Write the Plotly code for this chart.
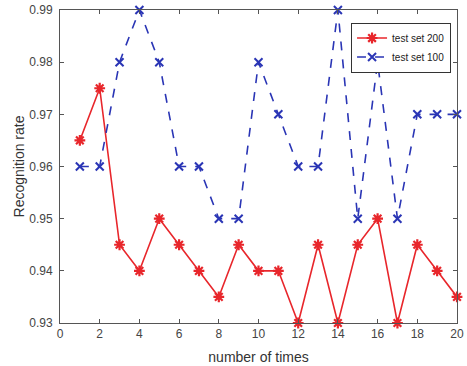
import plotly.graph_objects as go

x = list(range(1, 21))
set200 = [0.965, 0.975, 0.945, 0.94, 0.95, 0.945, 0.94, 0.935, 0.945, 0.94,
          0.94, 0.93, 0.945, 0.93, 0.945, 0.95, 0.93, 0.945, 0.94, 0.935]
set100 = [0.96, 0.96, 0.98, 0.99, 0.98, 0.96, 0.96, 0.95, 0.95, 0.98,
          0.97, 0.96, 0.96, 0.99, 0.95, 0.98, 0.95, 0.97, 0.97, 0.97]
xticks = list(range(0, 21, 2))
yticks = [0.93, 0.94, 0.95, 0.96, 0.97, 0.98, 0.99]

FONT = "Liberation Sans, Arial"

fig = go.Figure()
fig.add_trace(go.Scatter(
    x=x, y=set200, name="test set 200", mode="lines+markers",
    line=dict(color="#e8262b", width=1.6),
    marker=dict(symbol="asterisk-open", size=9, color="#e8262b",
                line=dict(color="#e8262b", width=2.2)),
    cliponaxis=False,
))
fig.add_trace(go.Scatter(
    x=x, y=set100, name="test set 100", mode="lines+markers",
    line=dict(color="#2a35b5", width=1.6, dash="dash"),
    marker=dict(symbol="x-thin-open", size=8, color="#2a35b5",
                line=dict(color="#2a35b5", width=2)),
    cliponaxis=False,
))

axis_common = dict(
    showgrid=False, zeroline=False, showline=True, linecolor="#555555",
    linewidth=1, mirror="ticks", ticks="inside", ticklen=4,
    tickcolor="#555555", automargin=False, ticklabeloverflow="allow",
    tickfont=dict(family=FONT, size=12, color="#444444"),
)
fig.update_xaxes(range=[0, 20], tickvals=xticks,
                 title=dict(text="number of times", font=dict(family=FONT, size=14, color="#333333"), standoff=11),
                 **axis_common)
fig.update_yaxes(range=[0.93, 0.99], tickvals=yticks, tickformat=".2f",
                 ticklabelstandoff=4,
                 title=dict(text="Recognition rate", font=dict(family=FONT, size=14, color="#333333"), standoff=1),
                 **axis_common)

fig.update_layout(
    width=467, height=366,
    margin=dict(l=60, r=10, t=10, b=43),
    paper_bgcolor="white", plot_bgcolor="white",
    showlegend=True,
    legend=dict(x=0.985, y=0.96, xanchor="right", yanchor="top",
                bgcolor="white", bordercolor="#333333", borderwidth=1,
                font=dict(family=FONT, size=10, color="#222222"),
                tracegroupgap=0, itemwidth=30),
)

fig.write_html("out.html", config={"displayModeBar": False},
               post_script="document.body.style.margin='0';")
